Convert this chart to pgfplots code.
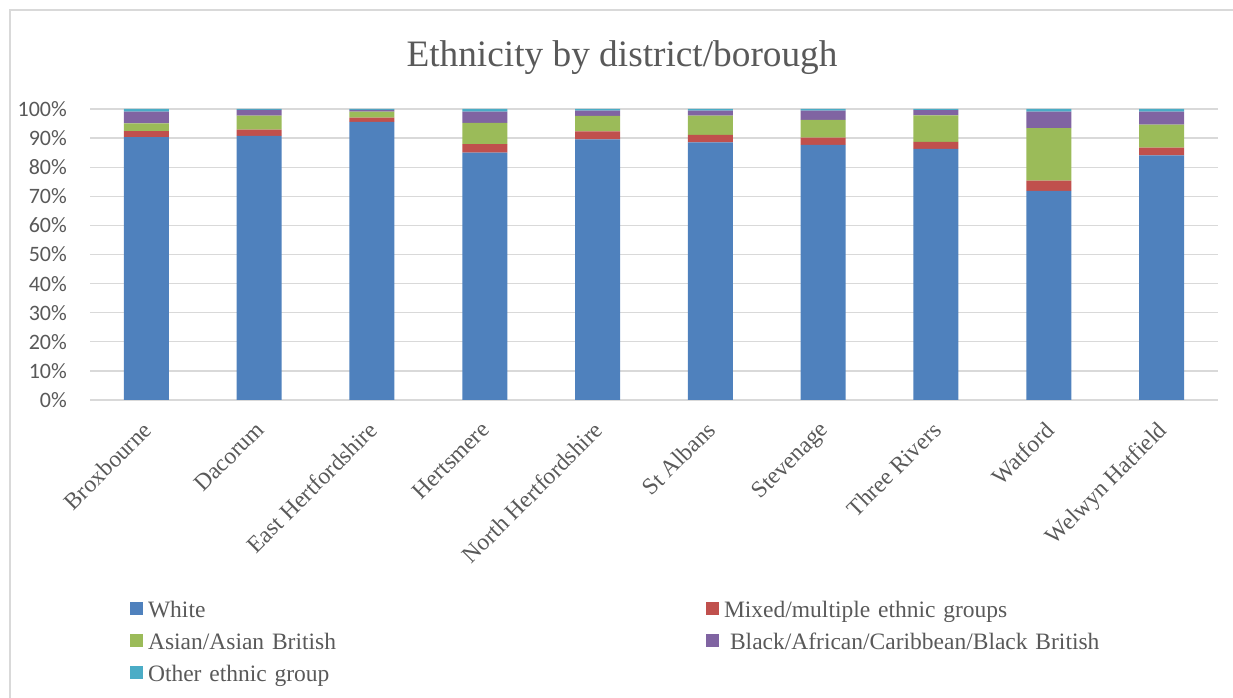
\documentclass[border=0pt]{standalone}
\usepackage{fontspec}
\setmainfont{Liberation Serif}
\newfontfamily\carlito{Carlito}
\usepackage{pgfplots}
\pgfplotsset{compat=1.18}
\usepackage{pgfplotstable}
\definecolor{cW}{HTML}{4F81BD}
\definecolor{cM}{HTML}{C0504D}
\definecolor{cA}{HTML}{9BBB59}
\definecolor{cB}{HTML}{8064A2}
\definecolor{cO}{HTML}{4BACC6}
\definecolor{gridgray}{HTML}{D9D9D9}
\definecolor{txt}{HTML}{595959}
\pgfplotstableread{
x W M A B O
0 90.3 2.1 2.7 4.0 0.9
1 90.8 2.1 4.8 2.0 0.3
2 95.6 1.4 2.1 0.6 0.3
3 85.0 2.9 7.3 3.9 0.9
4 89.6 2.7 5.3 1.8 0.6
5 88.5 2.6 6.6 1.7 0.6
6 87.7 2.5 6.1 3.1 0.6
7 86.3 2.4 9.1 1.8 0.4
8 71.9 3.5 18.0 5.7 0.9
9 84.1 2.6 7.9 4.5 0.9
}\data
\pgfplotsset{sqlegend/.style={legend image code/.code={\fill[##1] (0bp,-3bp) rectangle (13bp,10bp);}}}
\begin{document}
\begin{tikzpicture}
\path[use as bounding box] (0,0) rectangle (1233bp,698bp);
\draw[color=gridgray, line width=1.3bp] (10bp,0) -- (10bp,688bp) -- (1233bp,688bp);
\begin{axis}[
  at={(90bp,298bp)}, anchor=south west,
  scale only axis, width=1128bp, height=291bp,
  ybar stacked, bar width=45bp,
  xmin=-0.5, xmax=9.5, ymin=0, ymax=100,
  xtick=data,
  xticklabels={Broxbourne, Dacorum, East Hertfordshire, Hertsmere, North Hertfordshire, St Albans, Stevenage, Three Rivers, Watford, Welwyn Hatfield},
  ytick={0,10,...,100},
  yticklabel={\pgfmathprintnumber{\tick}\%},
  /pgf/number format/assume math mode=true,
  major tick length=0pt,
  axis x line*=bottom, axis y line*=left,
  y axis line style={draw=none},
  x axis line style={draw=gridgray, line width=1.3bp},
  ymajorgrids, grid style={draw=gridgray, line width=1.3bp},
  yticklabel style={font=\carlito\fontsize{22bp}{26bp}\selectfont, text=txt, inner sep=0pt, xshift=-23bp, anchor=east},
  xticklabel style={font=\fontsize{23.5bp}{28bp}\selectfont, text=txt, inner sep=0pt, yshift=-20bp, xshift=-5bp, rotate=45, anchor=north east},
  title={Ethnicity by district/borough},
  title style={font=\fontsize{37.3bp}{44bp}\selectfont, text=txt, at={(0.5,1)}, anchor=base, yshift=37bp, xshift=-32bp, inner sep=0pt},
  legend columns=2,
  legend cell align=left,
  legend style={draw=none, fill=none, at={(0.0355,-0.6905)}, anchor=north west, inner sep=0pt, outer sep=0pt,
    font=\fontsize{23.5bp}{28bp}\selectfont, text=txt, row sep=9bp,
    nodes={inner sep=0pt, text height=17bp, text depth=6bp, text width=558bp, align=left},
    /tikz/every odd column/.style={column sep=5bp},
    /tikz/every even column/.style={column sep=0bp}},
]
\addplot[fill=cW, draw=none, sqlegend] table[x=x, y=W]{\data};
\addlegendentry{White}
\addplot[fill=cM, draw=none, sqlegend] table[x=x, y=M]{\data};
\addlegendentry{Mixed/multiple ethnic groups}
\addplot[fill=cA, draw=none, sqlegend] table[x=x, y=A]{\data};
\addlegendentry{Asian/Asian British}
\addplot[fill=cB, draw=none, sqlegend] table[x=x, y=B]{\data};
\addlegendentry{\hspace{6bp}Black/African/Caribbean/Black British}
\addplot[fill=cO, draw=none, sqlegend] table[x=x, y=O]{\data};
\addlegendentry{Other ethnic group}
\end{axis}
\end{tikzpicture}
\end{document}
